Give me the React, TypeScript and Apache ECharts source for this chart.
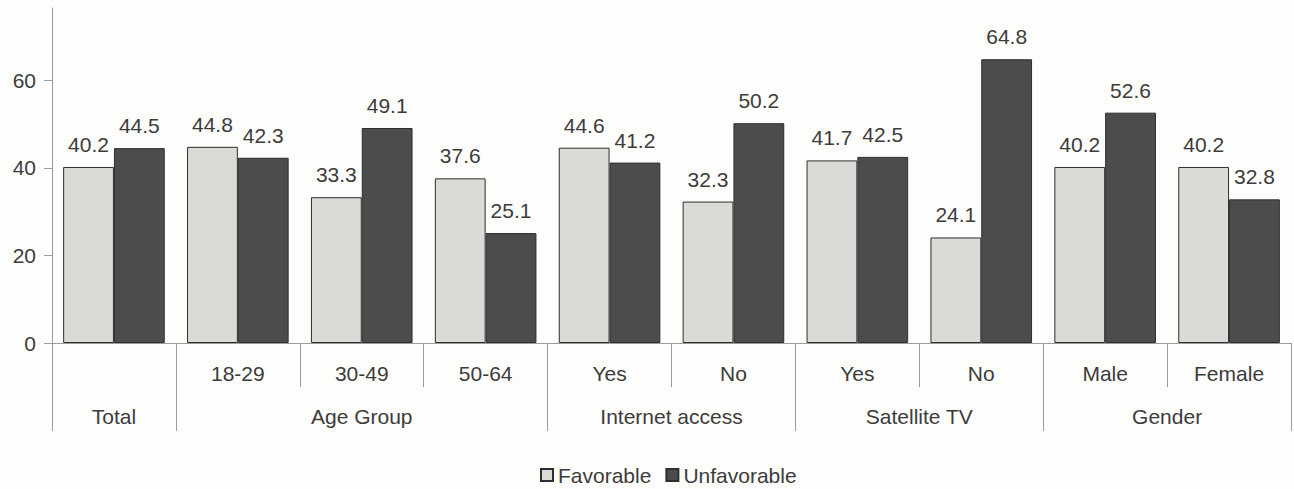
import React, { useEffect, useRef } from "react";
import * as echarts from "echarts";

// Sub-category labels along the first axis row ("Total" has none)
const subLabels = ["", "18-29", "30-49", "50-64", "Yes", "No", "Yes", "No", "Male", "Female"];
// Group labels on the second row and how many categories each spans
const groupNames = ["Total", "Age Group", "Internet access", "Satellite TV", "Gender"];
const groupSpans = [1, 3, 2, 2, 2];

const favorable = [40.2, 44.8, 33.3, 37.6, 44.6, 32.3, 41.7, 24.1, 40.2, 40.2];
const unfavorable = [44.5, 42.3, 49.1, 25.1, 41.2, 50.2, 42.5, 64.8, 52.6, 32.8];

const yTicks = [0, 20, 40, 60];

const FONT = 'Arial, "Liberation Sans", Helvetica, sans-serif';
const TEXT = "#3c3c3c";
const RULE = "#9c9c9c";

// The group row uses a half-category grid: point 2i+1 is the centre of
// category i and point 2i is the boundary before it.
function buildGroupAxis() {
  const n = subLabels.length * 2 + 1;
  const labels: string[] = new Array(n).fill("");
  const boundaries = new Set<number>();
  let start = 0;
  groupNames.forEach((name, g) => {
    const span = groupSpans[g];
    boundaries.add(start * 2);
    labels[start * 2 + span] = name;
    start += span;
  });
  boundaries.add(start * 2);
  return { labels, boundaries };
}

export default function App() {
  const ref = useRef<HTMLDivElement>(null);

  useEffect(() => {
    if (!ref.current) return;
    const chart = echarts.init(ref.current, undefined, { renderer: "svg" });
    const { labels: groupLabels, boundaries } = buildGroupAxis();

    const barLabel = {
      show: true,
      position: "top",
      distance: 12,
      fontSize: 21,
      fontFamily: FONT,
      color: TEXT,
      formatter: (p: any) => Number(p.value).toFixed(1),
    };

    chart.setOption({
      animation: false,
      backgroundColor: "#fdfdfb",
      textStyle: { fontFamily: FONT },
      grid: { left: 52, right: 2, top: 8, bottom: 146 },
      legend: {
        left: 540,
        top: 464,
        padding: 0,
        itemWidth: 12,
        itemHeight: 12,
        itemGap: 14,
        icon: "rect",
        textStyle: { fontSize: 21, lineHeight: 22, color: TEXT, fontFamily: FONT },
        data: ["Favorable", "Unfavorable"],
      },
      xAxis: [
        {
          type: "category",
          data: subLabels,
          position: "bottom",
          axisLine: { show: true, lineStyle: { color: RULE, width: 1 } },
          axisTick: { show: true, length: 44, lineStyle: { color: RULE } },
          axisLabel: { interval: 0, margin: 20, fontSize: 21, color: TEXT, fontFamily: FONT },
          splitLine: { show: false },
        },
        {
          type: "category",
          data: groupLabels,
          position: "bottom",
          boundaryGap: false,
          axisLine: { show: false },
          axisTick: {
            show: true,
            length: 88,
            interval: (i: number) => boundaries.has(i),
            lineStyle: { color: RULE },
          },
          axisLabel: { interval: 0, margin: 63, fontSize: 21, color: TEXT, fontFamily: FONT },
          splitLine: { show: false },
        },
      ],
      yAxis: {
        type: "value",
        min: 0,
        max: 76.5,
        interval: 20,
        axisLine: { show: true, lineStyle: { color: RULE } },
        axisTick: { show: true, length: 8, customValues: yTicks, lineStyle: { color: RULE } },
        axisLabel: { customValues: yTicks, margin: 16, fontSize: 21, color: TEXT, fontFamily: FONT },
        splitLine: { show: false },
      },
      series: [
        {
          name: "Favorable",
          type: "bar",
          xAxisIndex: 0,
          data: favorable,
          barGap: "0%",
          barCategoryGap: "18%",
          itemStyle: { color: "#dadad6", borderColor: "#2e2e2e", borderWidth: 1 },
          label: barLabel,
        },
        {
          name: "Unfavorable",
          type: "bar",
          xAxisIndex: 0,
          data: unfavorable,
          barGap: "0%",
          barCategoryGap: "18%",
          itemStyle: { color: "#4c4c4c", borderColor: "#2e2e2e", borderWidth: 1 },
          label: barLabel,
        },
      ],
    });

    return () => chart.dispose();
  }, []);

  return (
    <div
      ref={ref}
      style={{ position: "absolute", left: 0, top: 0, width: 1294, height: 489 }}
    />
  );
}
